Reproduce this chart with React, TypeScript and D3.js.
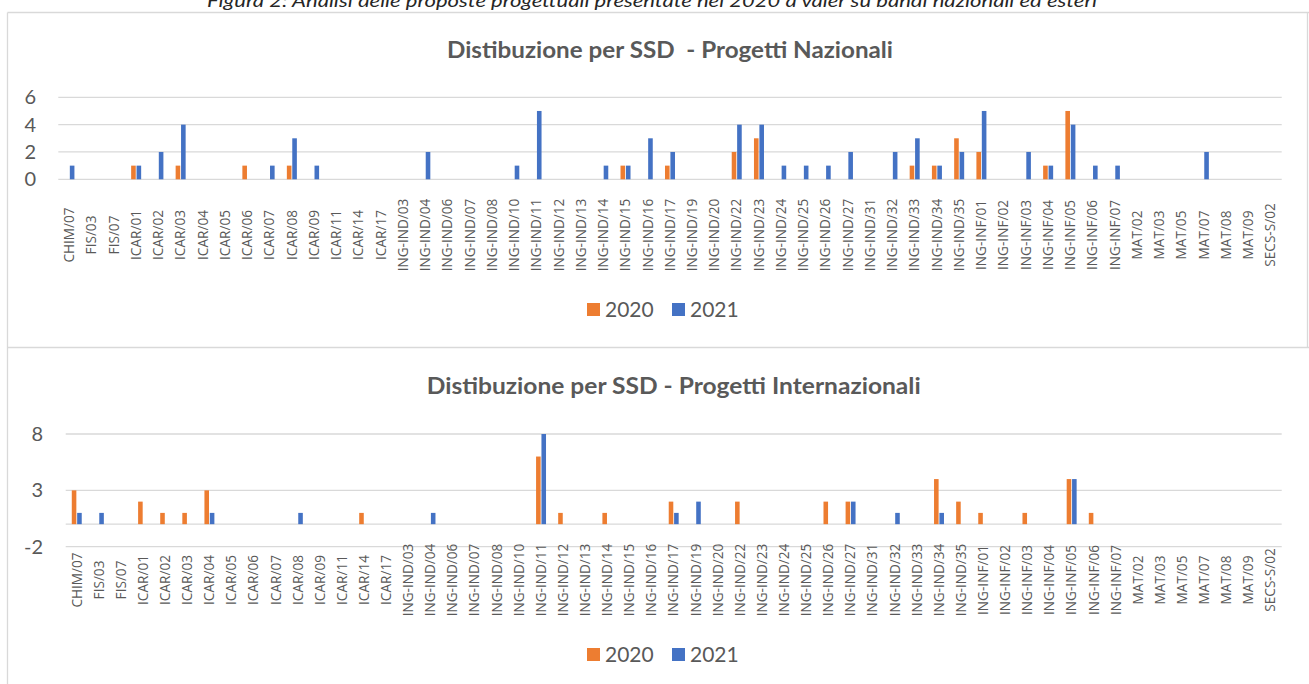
import React from 'react';
import * as d3 from 'd3';

const categories = [
  'CHIM/07', 'FIS/03', 'FIS/07', 'ICAR/01', 'ICAR/02', 'ICAR/03', 'ICAR/04', 'ICAR/05', 'ICAR/06', 'ICAR/07',
  'ICAR/08', 'ICAR/09', 'ICAR/11', 'ICAR/14', 'ICAR/17', 'ING-IND/03', 'ING-IND/04', 'ING-IND/06', 'ING-IND/07', 'ING-IND/08',
  'ING-IND/10', 'ING-IND/11', 'ING-IND/12', 'ING-IND/13', 'ING-IND/14', 'ING-IND/15', 'ING-IND/16', 'ING-IND/17', 'ING-IND/19', 'ING-IND/20',
  'ING-IND/22', 'ING-IND/23', 'ING-IND/24', 'ING-IND/25', 'ING-IND/26', 'ING-IND/27', 'ING-IND/31', 'ING-IND/32', 'ING-IND/33', 'ING-IND/34',
  'ING-IND/35', 'ING-INF/01', 'ING-INF/02', 'ING-INF/03', 'ING-INF/04', 'ING-INF/05', 'ING-INF/06', 'ING-INF/07', 'MAT/02', 'MAT/03',
  'MAT/05', 'MAT/07', 'MAT/08', 'MAT/09', 'SECS-S/02'
];

const years = ['2020', '2021'];

// Progetti Nazionali
const naz2020 = [
  0, 0, 0, 1, 0, 1, 0, 0, 1, 0,
  1, 0, 0, 0, 0, 0, 0, 0, 0, 0,
  0, 0, 0, 0, 0, 1, 0, 1, 0, 0,
  2, 3, 0, 0, 0, 0, 0, 0, 1, 1,
  3, 2, 0, 0, 1, 5, 0, 0, 0, 0,
  0, 0, 0, 0, 0
];
const naz2021 = [
  1, 0, 0, 1, 2, 4, 0, 0, 0, 1,
  3, 1, 0, 0, 0, 0, 2, 0, 0, 0,
  1, 5, 0, 0, 1, 1, 3, 2, 0, 0,
  4, 4, 1, 1, 1, 2, 0, 2, 3, 1,
  2, 5, 0, 2, 1, 4, 1, 1, 0, 0,
  0, 2, 0, 0, 0
];

// Progetti Internazionali
const int2020 = [
  3, 0, 0, 2, 1, 1, 3, 0, 0, 0,
  0, 0, 0, 1, 0, 0, 0, 0, 0, 0,
  0, 6, 1, 0, 1, 0, 0, 2, 0, 0,
  2, 0, 0, 0, 2, 2, 0, 0, 0, 4,
  2, 1, 0, 1, 0, 4, 1, 0, 0, 0,
  0, 0, 0, 0, 0
];
const int2021 = [
  1, 1, 0, 0, 0, 0, 1, 0, 0, 0,
  1, 0, 0, 0, 0, 0, 1, 0, 0, 0,
  0, 8, 0, 0, 0, 0, 0, 1, 2, 0,
  0, 0, 0, 0, 0, 2, 0, 1, 0, 1,
  0, 0, 0, 0, 0, 4, 0, 0, 0, 0,
  0, 0, 0, 0, 0
];

const nazTicks = [0, 2, 4, 6];
const intTicks = [-2, 3, 8];

const colors = { '2020': '#ED7D31', '2021': '#4472C4' };
const textColor = '#595959';
const gridColor = '#D9D9D9';
const calibri = 'Lato, "Open Sans", sans-serif';

function Panel({ title, titleY, titleWidth, values2020, values2021, domain, ticks, x0, x1, yTop, yBottom, tickRight, labelY, legendY }) {
  const x = d3.scaleBand().domain(categories).range([x0, x1]).paddingInner(0.55).paddingOuter(0.275);
  const sub = d3.scaleBand().domain(years).range([0, x.bandwidth()]).paddingInner(0.15);
  const y = d3.scaleLinear().domain(domain).range([yBottom, yTop]);

  const rows = categories.map((c, i) => ({ c, '2020': values2020[i], '2021': values2021[i] }));

  return (
    <g>
      <text x={(x0 + x1) / 2} y={titleY} textAnchor="middle" fontFamily={calibri} fontWeight="bold"
        fontSize={22} fill={textColor} style={{ whiteSpace: 'pre' }}
        textLength={titleWidth} lengthAdjust="spacingAndGlyphs">{title}</text>

      {ticks.map(t => (
        <g key={t}>
          <line x1={x0} x2={x1} y1={y(t)} y2={y(t)} stroke={gridColor} strokeWidth={1.3} />
          <text x={tickRight} y={y(t)} dy="0.35em" textAnchor="end" fontFamily={calibri} fontSize={20}
            fill={textColor}>{t}</text>
        </g>
      ))}
      {domain[0] < 0 && (
        <line x1={x0} x2={x1} y1={y(0)} y2={y(0)} stroke={gridColor} strokeWidth={1.3} />
      )}

      {rows.map(r => years.map(yr => r[yr] > 0 && (
        <rect key={r.c + yr} x={x(r.c) + sub(yr)} width={sub.bandwidth()}
          y={y(r[yr])} height={y(0) - y(r[yr])} fill={colors[yr]} />
      )))}

      {categories.map(c => (
        <text key={c} transform={`translate(${x(c) + x.bandwidth() / 2},${labelY}) rotate(-90)`}
          textAnchor="middle" dy="0.35em" fontFamily='"Open Sans", sans-serif' fontSize={13.6}
          fill={textColor}>{c}</text>
      ))}

      <g transform={`translate(0,${legendY})`}>
        <rect x={587} y={-7} width={13} height={13} fill={colors['2020']} />
        <text x={605} y={0} dy="0.35em" fontFamily={calibri} fontSize={21} fill={textColor}>2020</text>
        <rect x={672} y={-7} width={13} height={13} fill={colors['2021']} />
        <text x={690} y={0} dy="0.35em" fontFamily={calibri} fontSize={21} fill={textColor}>2021</text>
      </g>
    </g>
  );
}

export default function App() {
  return (
    <svg width={1309} height={684} style={{ position: 'absolute', left: 0, top: 0, background: '#fff' }}>
      <rect width={1309} height={684} fill="#fff" />
      <text x={652} y={7} textAnchor="middle" fontFamily={calibri} fontStyle="italic" fontSize={17}
        fill="#262626" textLength={890} lengthAdjust="spacingAndGlyphs">
        Figura 2: Analisi delle proposte progettuali presentate nel 2020 a valer su bandi nazionali ed esteri
      </text>

      {/* frames */}
      <line x1={7.5} x2={1309} y1={12.5} y2={12.5} stroke={gridColor} strokeWidth={1.3} />
      <line x1={7.5} x2={7.5} y1={12.5} y2={684} stroke={gridColor} strokeWidth={1.3} />
      <line x1={1307.5} x2={1307.5} y1={12.5} y2={347.5} stroke={gridColor} strokeWidth={1.3} />
      <line x1={7.5} x2={1309} y1={347.5} y2={347.5} stroke={gridColor} strokeWidth={1.3} />

      <Panel title="Distibuzione per SSD  - Progetti Nazionali" titleY={58} titleWidth={446}
        values2020={naz2020} values2021={naz2021} domain={[0, 6]} ticks={nazTicks}
        x0={58.3} x1={1281.7} yTop={97.3} yBottom={179.3} tickRight={36} labelY={235} legendY={310} />

      <Panel title="Distibuzione per SSD - Progetti Internazionali" titleY={394} titleWidth={494}
        values2020={int2020} values2021={int2021} domain={[-2, 8]} ticks={intTicks}
        x0={65.7} x1={1281.7} yTop={434} yBottom={546.7} tickRight={43} labelY={580} legendY={655} />
    </svg>
  );
}
